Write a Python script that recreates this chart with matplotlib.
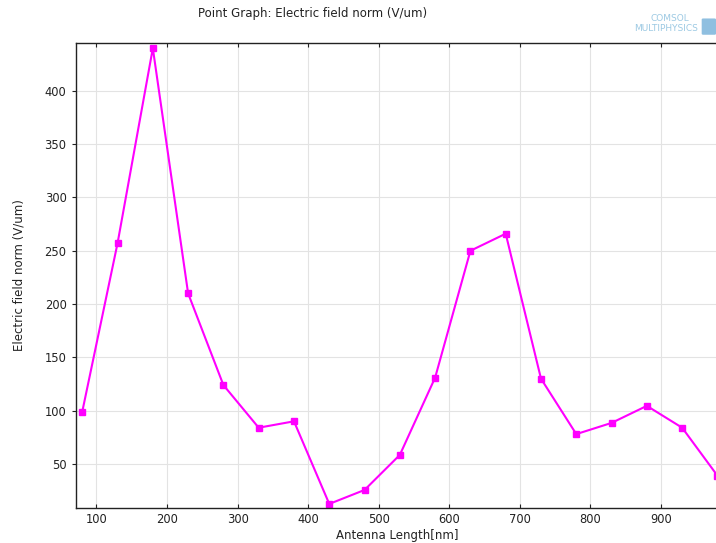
import matplotlib
matplotlib.use("Agg")
import matplotlib.pyplot as plt
from matplotlib.patches import FancyBboxPatch

lengths = [80, 130, 180, 230, 280, 330, 380, 430, 480, 530, 580, 630, 680, 730, 780, 830, 880, 930, 980]
field = [99, 257, 440, 210, 124, 84, 90, 12.5, 25.6, 58.5, 131, 250, 266, 130, 78, 88.5, 104.5, 84, 39]
xticks = [100, 200, 300, 400, 500, 600, 700, 800, 900]
yticks = [50, 100, 150, 200, 250, 300, 350, 400]

fig = plt.figure(figsize=(7.16, 5.43), dpi=100)
ax = fig.add_axes([0.1065, 0.0645, 0.8955, 0.8565])
ax.plot(lengths, field, color='#ff00ff', lw=1.5, marker='s', ms=4.5, clip_on=True)
ax.set_xlim(71.5, 980)
ax.set_ylim(8.7, 445)
ax.set_xticks(xticks)
ax.set_yticks(yticks)
ax.grid(True, color='#e3e3e3', lw=0.8)
ax.set_axisbelow(True)
ax.tick_params(labelsize=8.3, colors='#222222', length=3, width=0.8, top=True, direction='in')
ax.tick_params(axis='y', direction='out', length=3, pad=4)
for s in ax.spines.values():
    s.set_linewidth(1.0)
    s.set_color('#222222')
ax.set_xlabel('Antenna Length[nm]', fontsize=8.5, labelpad=2, color='#222222')
ax.set_ylabel('Electric field norm (V/um)', fontsize=8.5, labelpad=14, color='#222222')
fig.text(0.437, 0.976, 'Point Graph: Electric field norm (V/um)', fontsize=8.5, ha='center', va='center', color='#222222')
fig.text(0.962, 0.966, 'COMSOL', fontsize=6.5, ha='right', va='center', color='#9cc9e3')
fig.text(0.975, 0.948, 'MULTIPHYSICS', fontsize=6.5, ha='right', va='center', color='#9cc9e3')
logo = FancyBboxPatch((0.982, 0.938), 0.016, 0.026, boxstyle='round,pad=0.002',
                      transform=fig.transFigure, fc='#8fbfe0', ec='none')
fig.patches.append(logo)
fig.savefig('out.png', dpi=100)
